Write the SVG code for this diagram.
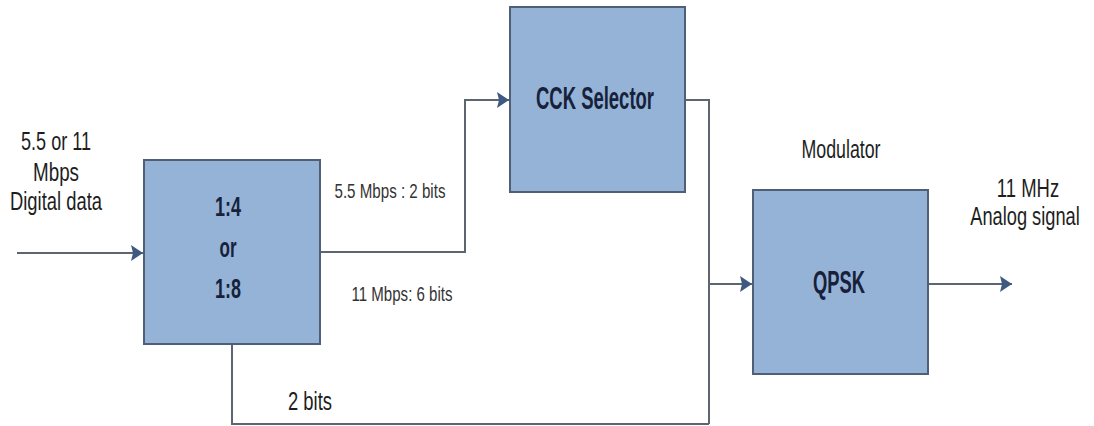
<svg xmlns="http://www.w3.org/2000/svg" width="1094" height="426" viewBox="0 0 1094 426">
  <style>
    .box { fill: #95b3d7; stroke: #4f5f78; stroke-width: 2; }
    .wire { fill: none; stroke: #5d6670; stroke-width: 2; }
    .lbl { font-family: "Liberation Sans", Arial, sans-serif; font-size: 25px; fill: #1e1e1e; text-anchor: middle; }
    .small { font-family: "Liberation Sans", Arial, sans-serif; font-size: 21px; fill: #333333; text-anchor: middle; }
    .inbox { font-family: "Liberation Sans", Arial, sans-serif; font-size: 28px; font-weight: bold; fill: #17223a; text-anchor: middle; }
    .big { font-size: 31px; }
  </style>
  <defs>
    <marker id="arrow" markerUnits="userSpaceOnUse" markerWidth="14" markerHeight="18" refX="12" refY="8" orient="auto">
      <path d="M0,0 L12,8 L0,16 L2,8 Z" fill="#3f5a80"/>
    </marker>
  </defs>
  <rect width="1094" height="426" fill="#ffffff"/>

  <!-- connectors -->
  <g id="connectors">
    <path class="wire" d="M17,253 H143" marker-end="url(#arrow)"/>
    <path class="wire" d="M320,252 H465 V100 H509" marker-end="url(#arrow)"/>
    <path class="wire" d="M685,100 H709 V424"/>
    <path class="wire" d="M232,344 V424 H709"/>
    <path class="wire" d="M709,284 H752" marker-end="url(#arrow)"/>
    <path class="wire" d="M928,284 H1012" marker-end="url(#arrow)"/>
    <text class="small" x="390" y="198" textLength="111" lengthAdjust="spacingAndGlyphs">5.5 Mbps : 2 bits</text>
    <text class="small" x="402" y="301" textLength="101" lengthAdjust="spacingAndGlyphs">11 Mbps: 6 bits</text>
    <text class="lbl" x="310" y="410" textLength="44" lengthAdjust="spacingAndGlyphs">2 bits</text>
  </g>

  <!-- input label -->
  <g id="input">
    <text class="lbl" x="56" y="150" textLength="70" lengthAdjust="spacingAndGlyphs">5.5 or 11</text>
    <text class="lbl" x="56" y="181" textLength="46" lengthAdjust="spacingAndGlyphs">Mbps</text>
    <text class="lbl" x="56" y="210" textLength="92" lengthAdjust="spacingAndGlyphs">Digital data</text>
  </g>

  <!-- serial-to-parallel splitter -->
  <g id="splitter">
    <rect class="box" x="144" y="160" width="176" height="184"/>
    <text class="inbox" x="228" y="216" textLength="26" lengthAdjust="spacingAndGlyphs">1:4</text>
    <text class="inbox" x="228" y="257" textLength="17" lengthAdjust="spacingAndGlyphs">or</text>
    <text class="inbox" x="228" y="298" textLength="26" lengthAdjust="spacingAndGlyphs">1:8</text>
  </g>

  <!-- code selector -->
  <g id="cck-selector">
    <rect class="box" x="510" y="7" width="175" height="185"/>
    <text class="inbox big" x="595" y="109" textLength="118" lengthAdjust="spacingAndGlyphs">CCK Selector</text>
  </g>

  <!-- modulator -->
  <g id="modulator">
    <text class="lbl" x="841" y="158" textLength="79" lengthAdjust="spacingAndGlyphs">Modulator</text>
    <rect class="box" x="753" y="190" width="175" height="184"/>
    <text class="inbox big" x="839" y="293" textLength="52" lengthAdjust="spacingAndGlyphs">QPSK</text>
  </g>

  <!-- output label, narrowed with a horizontal scale -->
  <g id="output">
    <text class="lbl" transform="translate(1028 197) scale(0.74 1)" x="0" y="0">11 MHz</text>
    <text class="lbl" transform="translate(1025 225) scale(0.73 1)" x="0" y="0">Analog signal</text>
  </g>
</svg>
